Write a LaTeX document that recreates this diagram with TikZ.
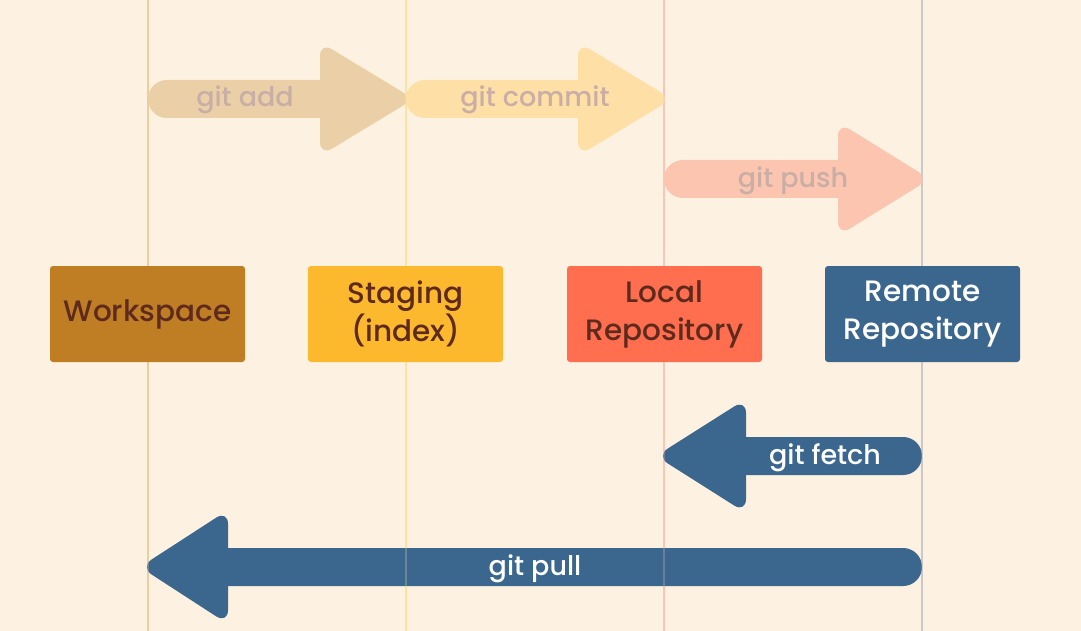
\documentclass[tikz,border=0pt]{standalone}
\usepackage{fontspec}
\IfFontExistsTF{Poppins Medium}{\setmainfont{Poppins Medium}}{\setmainfont{Poppins}}
\definecolor{bg}{HTML}{FDF2E1}
\definecolor{wsfill}{HTML}{BF7E24}
\definecolor{stfill}{HTML}{FDB92E}
\definecolor{lofill}{HTML}{FF6F4F}
\definecolor{refill}{HTML}{3B668E}
\definecolor{boxtxt}{HTML}{5E2A1E}
\definecolor{addc}{HTML}{EBD0A7}
\definecolor{commitc}{HTML}{FEDFA5}
\definecolor{pushc}{HTML}{FCC5B0}
\definecolor{fadetxt}{HTML}{C9AEA6}
\definecolor{lnA}{HTML}{E9CFA0}
\definecolor{lnB}{HTML}{FDE2A0}
\definecolor{lnC}{HTML}{F9C6B6}
\definecolor{lnD}{HTML}{C9C9C9}
\newcommand\gitarrow[7]{% color, tail x, tip x, head-back x, center y, shaft half h, head half H
  \fill[#1, rounded corners=#6pt-0.1pt] (#2,#5-#6) rectangle ({#4+(#3-#4)*0.4},#5+#6);
  \fill[#1, rounded corners=14pt] (#4,#5-#7) -- (#3,#5) -- (#4,#5+#7) -- cycle;
}
\tikzset{
  box/.style={rounded corners=3pt, minimum width=195pt, minimum height=96pt, inner sep=0pt,
    align=center, font=\fontsize{29.5}{38}\selectfont, text=boxtxt},
  lbl/.style={font=\fontsize{27}{30}\selectfont, inner sep=0pt},
  lane/.style={line width=2.2pt},
}
\begin{document}
\begin{tikzpicture}[x=1pt,y=-1pt]
\fill[bg] (0,0) rectangle (1081,631);
\useasboundingbox (0,0) rectangle (1081,631);
% lanes
\foreach \xx/\cc in {148/lnA,406/lnB,664/lnC,922/lnD}
  \draw[lane,\cc] (\xx,0) -- (\xx,631);
% arrows
\gitarrow{addc}{148}{414}{320}{99}{19}{57}
\gitarrow{commitc}{406}{672}{578}{99}{19}{57}
\gitarrow{pushc}{664}{930}{838}{179}{19}{57}
\gitarrow{refill}{922}{656}{746}{456}{19}{57}
\gitarrow{refill}{922}{140}{228}{567}{19}{57}
% lanes faintly over arrows
\foreach \xx/\cc in {148/lnA,406/lnB,664/lnC,922/lnD}
  \draw[lane,\cc,opacity=0.25] (\xx,0) -- (\xx,631);
% labels
\node[lbl,text=fadetxt] (ladd) at (245,100) {git add};
\node[lbl,text=fadetxt] (lcommit) at (535,100) {git commit};
\node[lbl,text=fadetxt] (lpush) at (793,181) {git push};
\node[lbl,text=white] (lfetch) at (825,458) {git fetch};
\node[lbl,text=white] (lpull) at (535,569) {git pull};
% boxes
\node[box,fill=wsfill] (ws) at (147.5,314) {Workspace};
\node[box,fill=stfill] (st) at (405.5,314) {Staging\\(index)};
\node[box,fill=lofill] (lo) at (664.5,314) {Local\\Repository};
\node[box,fill=refill,text=white] (re) at (922.5,314) {Remote\\Repository};
\end{tikzpicture}
\end{document}
